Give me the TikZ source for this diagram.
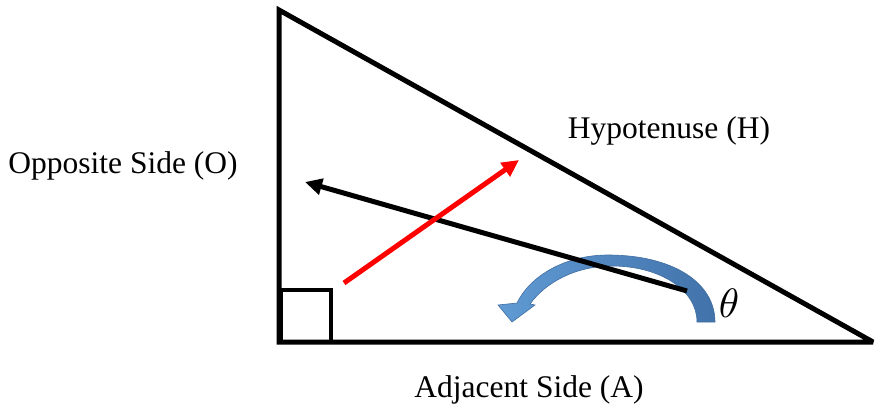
\documentclass[tikz,border=0pt]{standalone}
\usepackage{fontspec}
\setmainfont{Liberation Serif}
\usetikzlibrary{arrows.meta}
\definecolor{arrowblueL}{RGB}{96,155,212}
\definecolor{arrowblueR}{RGB}{66,114,170}
\definecolor{arrowedge}{RGB}{65,110,160}
\tikzset{
  side/.style={line width=5pt, line join=miter, miter limit=3},
  vec/.style={line width=5pt, -{Triangle[length=17pt,width=16pt]}},
  lbl/.style={font=\fontsize{31.5}{36}\selectfont, anchor=base, inner sep=0pt}
}
\begin{document}
\begin{tikzpicture}[x=1pt,y=-1pt]
\useasboundingbox (0,0) rectangle (879,410);
\coordinate (T) at (279,10);
\coordinate (B) at (279,342);
\coordinate (C) at (873,342);
\draw[side] (T) -- (B) -- (C) -- cycle;
\draw[line width=4.5pt, line join=miter] (281,290) rectangle (331,342);
% curved blue arrow
\shade[left color=arrowblueL, right color=arrowblueR, draw=arrowedge, line width=0.6pt, line join=miter]
  (715,322) .. controls (715,282) and (672,255) .. (608,255)
  .. controls (565,255) and (530,276) .. (517,303)
  -- (498,305) -- (512,322) -- (535,305) -- (530,304)
  .. controls (546,282) and (576,266) .. (612,266)
  .. controls (660,266) and (697,290) .. (697,322) -- cycle;
% black arrow
\coordinate (k1) at (687,291);
\coordinate (k2) at (305,182);
\draw[vec, black] (k1) -- (k2);
% red arrow
\coordinate (r1) at (344,283);
\coordinate (r2) at (519,160);
\draw[vec, red] (r1) -- (r2);
\node[inner sep=0pt, scale=4.1] (th) at (729,303) {$\theta$};
\node[lbl] (hyp) at (669,138) {Hypotenuse (H)};
\node[lbl] (opp) at (123,173) {Opposite Side (O)};
\node[lbl] (adj) at (529,397) {Adjacent Side (A)};
\end{tikzpicture}
\end{document}
